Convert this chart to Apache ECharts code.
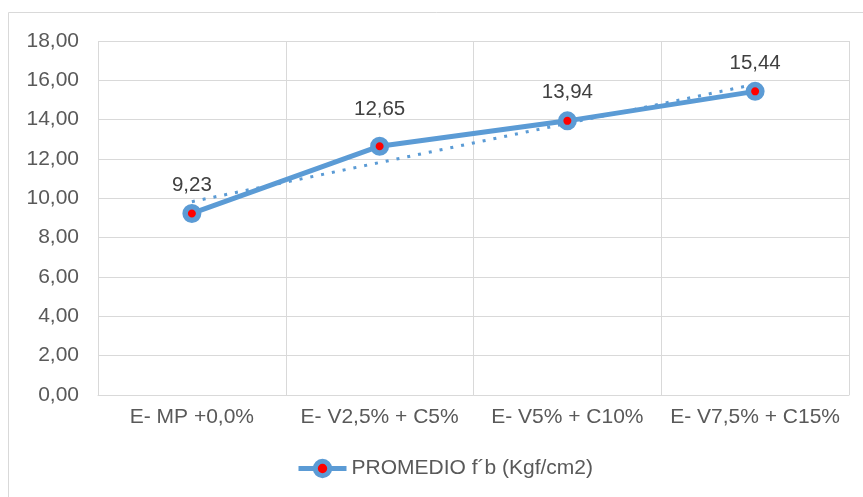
<!DOCTYPE html>
<html><head><meta charset="utf-8">
<script src="https://cdn.jsdelivr.net/npm/echarts@6/dist/echarts.min.js"></script>
<style>html,body{margin:0;padding:0;background:#fff}#c{width:863px;height:497px}</style>
</head><body><div id="c"></div>
<script>
const categories = ['E- MP +0,0%', 'E- V2,5% + C5%', 'E- V5% + C10%', 'E- V7,5% + C15%'];
const promedio = [9.23, 12.65, 13.94, 15.44];
const trend = [9.83, 11.82, 13.81, 15.80];
const seriesName = 'PROMEDIO f´b (Kgf/cm2)';
const fmt = v => v.toFixed(2).replace('.', ',');
const FONT = 'Liberation Sans, Arial, sans-serif';
const chart = echarts.init(document.getElementById('c'), null, {renderer: 'canvas'});
chart.setOption({
  animation: false,
  textStyle: {fontFamily: FONT},
  graphic: [{type: 'rect', shape: {x: 8.5, y: 12.5, width: 900, height: 600}, style: {fill: 'none', stroke: '#D9D9D9', lineWidth: 1}, silent: true, z: -10}],
  grid: {left: 98, right: 14, top: 41, bottom: 102, containLabel: false},
  legend: {
    data: [seriesName], top: 453, left: 291, itemWidth: 48, itemHeight: 18, itemGap: 7,
    lineStyle: {width: 5, color: '#5B9BD5'},
    itemStyle: {color: '#FF0000', borderColor: '#5B9BD5', borderWidth: 5},
    textStyle: {fontSize: 21, color: '#595959', fontFamily: FONT}
  },
  xAxis: {
    type: 'category', data: categories, boundaryGap: true,
    axisLine: {lineStyle: {color: '#D9D9D9'}}, axisTick: {show: false},
    axisLabel: {fontSize: 21, color: '#595959', margin: 12, interval: 0},
    splitLine: {show: true, lineStyle: {color: '#D9D9D9', width: 1}}
  },
  yAxis: {
    type: 'value', min: 0, max: 18, interval: 2,
    axisLine: {show: false}, axisTick: {show: false},
    axisLabel: {fontSize: 21, color: '#595959', margin: 19, formatter: v => fmt(v)},
    splitLine: {lineStyle: {color: '#D9D9D9', width: 1}}
  },
  series: [
    {
      name: 'trend', type: 'line', data: trend, symbol: 'none', silent: true,
      lineStyle: {color: '#5B9BD5', width: 3, type: [3, 8], cap: 'butt'}, z: 1
    },
    {
      name: seriesName, type: 'line',
      data: promedio.map((v, i) => i === 1 ? {value: v, label: {offset: [0, -8]}} : v),
      symbol: 'circle', symbolSize: 13.5,
      lineStyle: {color: '#5B9BD5', width: 5},
      itemStyle: {color: '#FF0000', borderColor: '#5B9BD5', borderWidth: 5.5},
      label: {show: true, position: 'top', distance: 8.5, fontSize: 20.5, color: '#404040', formatter: p => fmt(p.value)},
      z: 3
    }
  ]
});
</script></body></html>
